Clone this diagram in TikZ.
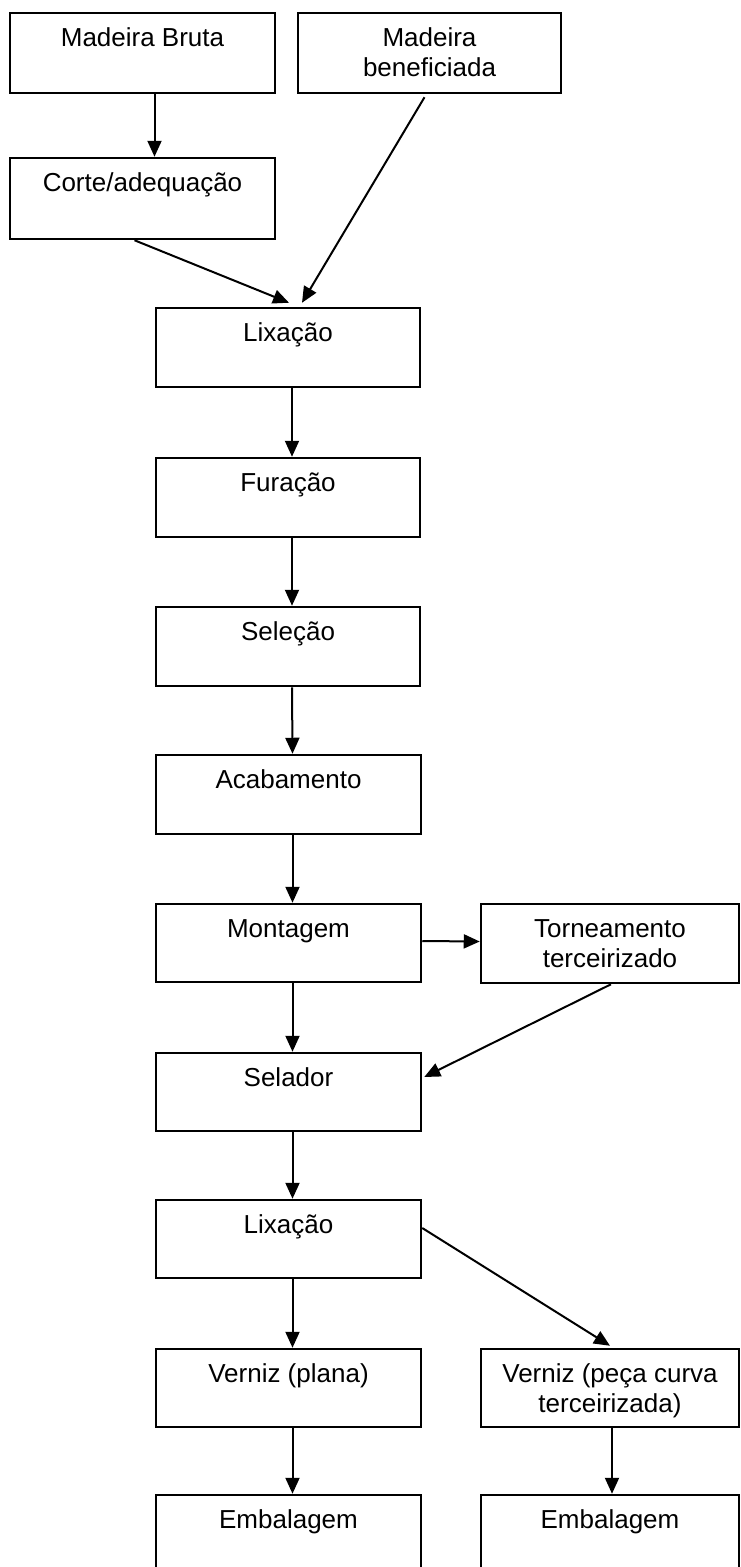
\documentclass[tikz,border=0pt]{standalone}
\usepackage{fontspec}
\setmainfont{Liberation Sans}
\usetikzlibrary{arrows.meta,fit}
\begin{document}
\begin{tikzpicture}[x=1pt,y=-1pt,
  stepbox/.style={draw=black, line width=2.5pt, inner sep=0pt, fill=white},
  lbl/.style={anchor=base, align=center, inner sep=0pt, font=\fontsize{26}{30}\selectfont},
  arr/.style={draw=black, line width=2pt, -{Triangle[length=16pt,width=14pt]}}]
\fill[white] (0,0) rectangle (741,1567);
\useasboundingbox (0,0) rectangle (741,1567);
\clip (0,0) rectangle (741,1567);
% boxes
\node[stepbox, fit={(10,13) (275,93)}] (bruta) {};
\node[stepbox, fit={(298,13) (561,93)}] (benef) {};
\node[stepbox, fit={(10,158) (275,239)}] (corte) {};
\node[stepbox, fit={(156,308) (420,387)}] (lixa) {};
\node[stepbox, fit={(156,458) (420,537)}] (fura) {};
\node[stepbox, fit={(156,607) (420,686)}] (sele) {};
\node[stepbox, fit={(156,755) (421,834)}] (acab) {};
\node[stepbox, fit={(156,904) (421,982)}] (mont) {};
\node[stepbox, fit={(481,904) (739,983)}] (torn) {};
\node[stepbox, fit={(156,1053) (421,1131)}] (selad) {};
\node[stepbox, fit={(156,1200) (421,1278)}] (lixb) {};
\node[stepbox, fit={(156,1349) (421,1427)}] (vernp) {};
\node[stepbox, fit={(481,1349) (739,1427)}] (vernc) {};
\node[stepbox, fit={(156,1495) (421,1580)}] (emba) {};
\node[stepbox, fit={(481,1495) (739,1580)}] (embb) {};
% labels (two-line labels: base anchor is the last line)
\node[lbl] (tbruta) at ([yshift=-35pt]bruta.north) {Madeira Bruta};
\node[lbl] (tbenef) at ([yshift=-65pt]benef.north) {Madeira\\beneficiada};
\node[lbl] (tcorte) at ([yshift=-35pt]corte.north) {Corte/adequação};
\node[lbl] (tlixa) at ([yshift=-35pt]lixa.north) {Lixação};
\node[lbl] (tfura) at ([yshift=-35pt]fura.north) {Furação};
\node[lbl] (tsele) at ([yshift=-35pt]sele.north) {Seleção};
\node[lbl] (tacab) at ([yshift=-35pt]acab.north) {Acabamento};
\node[lbl] (tmont) at ([yshift=-35pt]mont.north) {Montagem};
\node[lbl] (ttorn) at ([yshift=-65pt]torn.north) {Torneamento\\terceirizado};
\node[lbl] (tselad) at ([yshift=-35pt]selad.north) {Selador};
\node[lbl] (tlixb) at ([yshift=-35pt]lixb.north) {Lixação};
\node[lbl] (tvernp) at ([yshift=-35pt]vernp.north) {Verniz (plana)};
\node[lbl] (tvernc) at ([yshift=-65pt]vernc.north) {Verniz (peça curva\\terceirizada)};
\node[lbl] (temba) at ([yshift=-35pt]emba.north) {Embalagem};
\node[lbl] (tembb) at ([yshift=-35pt]embb.north) {Embalagem};
% connectors
\draw[arr] ([xshift=12pt]bruta.south) -- ([xshift=12pt]corte.north);
\draw[arr] ([xshift=-8pt]corte.south) -- ([xshift=1pt,yshift=4pt]lixa.north);
\draw[arr] ([xshift=-5pt,yshift=-3pt]benef.south) -- ([xshift=14pt,yshift=4pt]lixa.north);
\draw[arr] ([xshift=4pt]lixa.south) -- ([xshift=4pt]fura.north);
\draw[arr] ([xshift=4pt]fura.south) -- ([xshift=4pt]sele.north);
\draw[arr] ([xshift=4pt]sele.south) -- ([xshift=4pt]acab.north);
\draw[arr] ([xshift=4pt]acab.south) -- ([xshift=4pt]mont.north);
\draw[arr] ([yshift=2pt]mont.east) -- ([yshift=2pt]torn.west);
\draw[arr] ([xshift=4pt]mont.south) -- ([xshift=4pt]selad.north);
\draw[arr] ([xshift=1pt]torn.south) -- ([xshift=2pt,yshift=15pt]selad.east);
\draw[arr] ([xshift=4pt]selad.south) -- ([xshift=4pt]lixb.north);
\draw[arr] ([xshift=4pt]lixb.south) -- ([xshift=4pt]vernp.north);
\draw[arr] ([yshift=11pt]lixb.east) -- ([yshift=2pt]vernc.north);
\draw[arr] ([xshift=4pt]vernp.south) -- ([xshift=4pt]emba.north);
\draw[arr] ([xshift=2pt]vernc.south) -- ([xshift=2pt]embb.north);
\end{tikzpicture}
\end{document}
